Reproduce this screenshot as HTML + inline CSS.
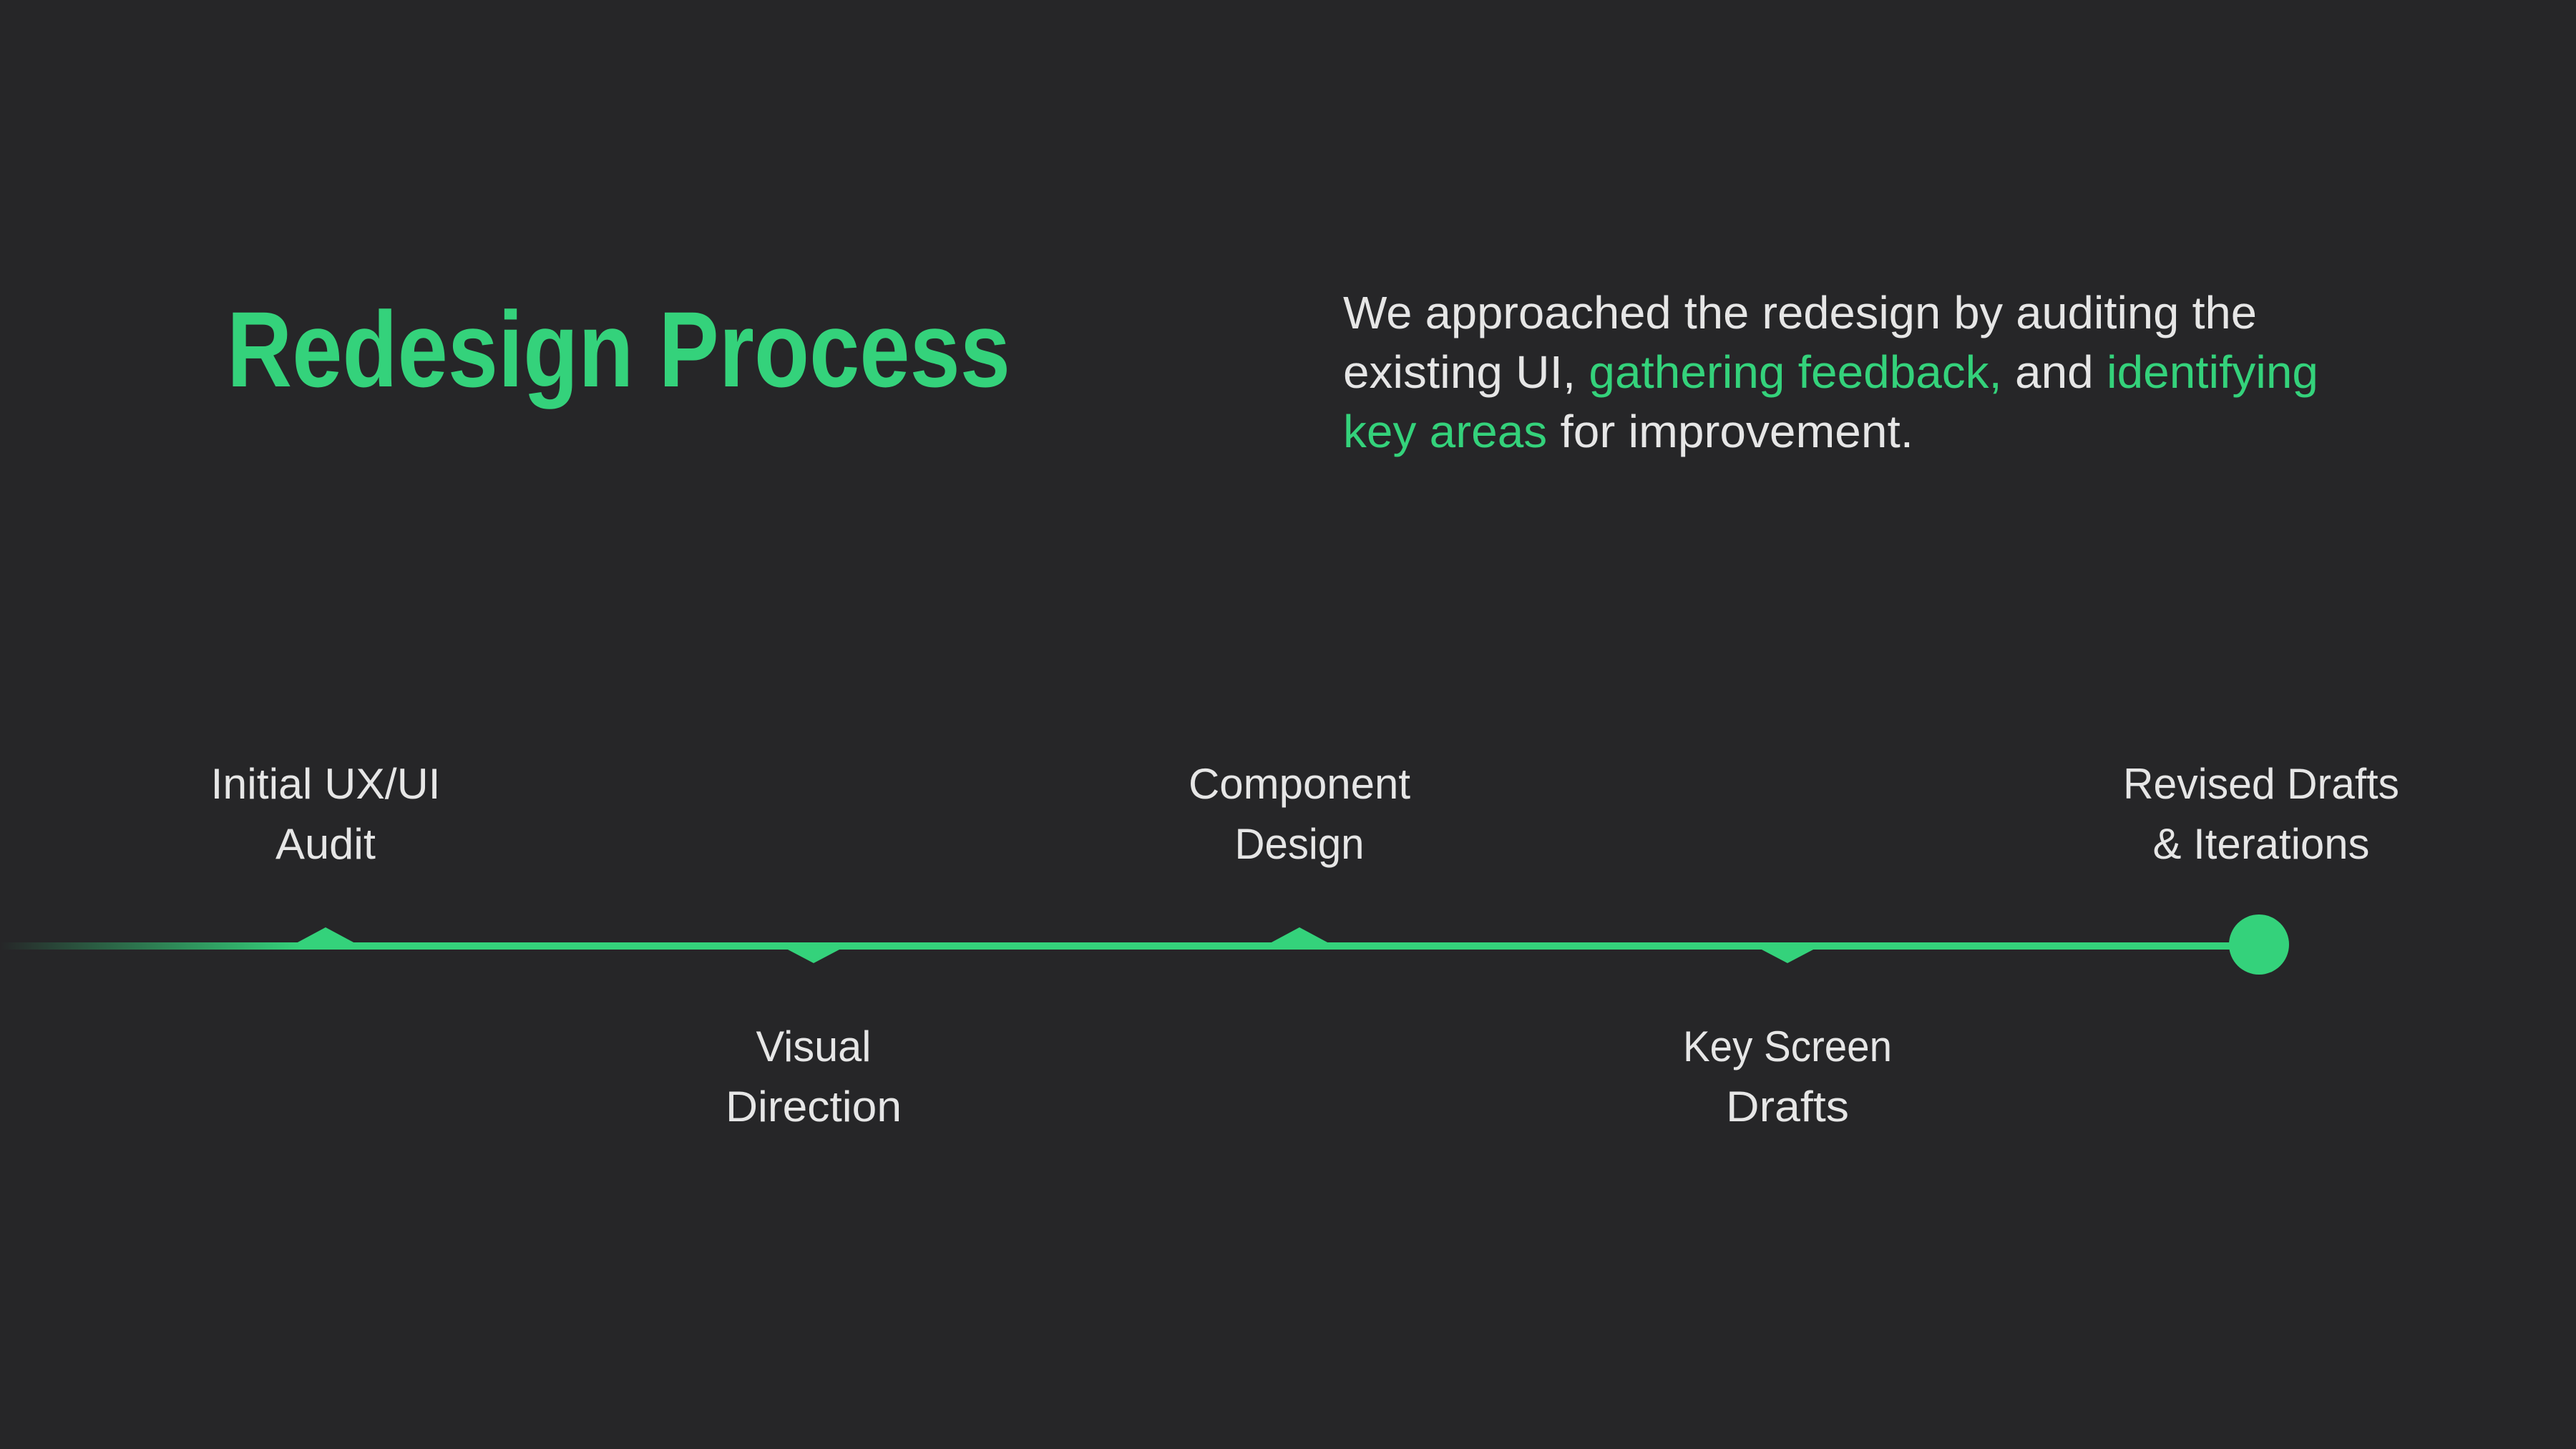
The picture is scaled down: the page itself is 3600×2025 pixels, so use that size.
<!DOCTYPE html>
<html><head><meta charset="utf-8"><style>
html,body{margin:0;padding:0;background:#262628;}
svg{display:block}
text{font-family:"Liberation Sans",sans-serif;}
</style></head><body>
<svg width="3600" height="2025" viewBox="0 0 3600 2025" xmlns="http://www.w3.org/2000/svg">
<defs>
<linearGradient id="fade" x1="0" y1="0" x2="420" y2="0" gradientUnits="userSpaceOnUse">
<stop offset="0" stop-color="#34d27b" stop-opacity="0"/>
<stop offset="1" stop-color="#34d27b" stop-opacity="1"/>
</linearGradient>
</defs>
<rect width="3600" height="2025" fill="#262628"/>
<text x="317" y="540" font-size="150" font-weight="bold" fill="#34d27b" textLength="1095" lengthAdjust="spacingAndGlyphs">Redesign Process</text>
<g font-size="64" fill="#e6e6e6">
<text x="1877" y="459" textLength="1277" lengthAdjust="spacingAndGlyphs">We approached the redesign by auditing the</text>
<text x="1877" y="542" textLength="1363" lengthAdjust="spacingAndGlyphs">existing UI, <tspan fill="#34d27b">gathering feedback,</tspan> and <tspan fill="#34d27b">identifying</tspan></text>
<text x="1877" y="625" textLength="797" lengthAdjust="spacingAndGlyphs"><tspan fill="#34d27b">key areas</tspan> for improvement.</text>
</g>
<rect x="0" y="1317" width="420" height="10" fill="url(#fade)"/>
<rect x="418" y="1317" width="2740" height="10" fill="#34d27b"/>
<polygon points="414,1318 455,1296 496,1318" fill="#34d27b"/>
<polygon points="1099,1326 1137,1346 1175,1326" fill="#34d27b"/>
<polygon points="1775,1318 1816,1296 1857,1318" fill="#34d27b"/>
<polygon points="2460,1326 2498,1346 2536,1326" fill="#34d27b"/>
<circle cx="3157" cy="1320" r="42" fill="#34d27b"/>
<g font-size="60" fill="#e6e6e6" text-anchor="middle">
<text x="455" y="1116" textLength="321" lengthAdjust="spacingAndGlyphs">Initial UX/UI</text>
<text x="455" y="1200" textLength="140" lengthAdjust="spacingAndGlyphs">Audit</text>
<text x="1816" y="1116" textLength="310" lengthAdjust="spacingAndGlyphs">Component</text>
<text x="1816" y="1200" textLength="181" lengthAdjust="spacingAndGlyphs">Design</text>
<text x="3160" y="1116" textLength="386" lengthAdjust="spacingAndGlyphs">Revised Drafts</text>
<text x="3160" y="1200" textLength="303" lengthAdjust="spacingAndGlyphs">&amp; Iterations</text>
<text x="1137" y="1483" textLength="161" lengthAdjust="spacingAndGlyphs">Visual</text>
<text x="1137" y="1567" textLength="246" lengthAdjust="spacingAndGlyphs">Direction</text>
<text x="2498" y="1483" textLength="292" lengthAdjust="spacingAndGlyphs">Key Screen</text>
<text x="2498" y="1567" textLength="172" lengthAdjust="spacingAndGlyphs">Drafts</text>
</g>
</svg>
</body></html>
